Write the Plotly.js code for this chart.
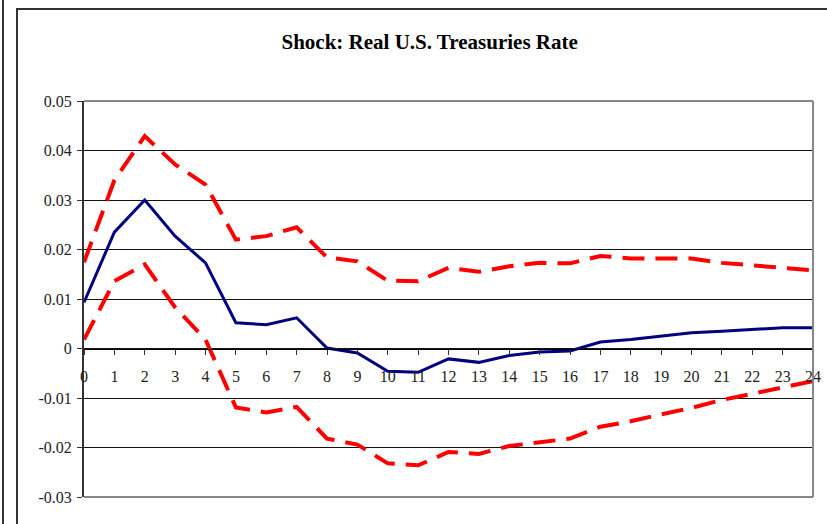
<!DOCTYPE html>
<html>
<head>
<meta charset="utf-8">
<script src="https://cdn.plot.ly/plotly-3.0.1.min.js"></script>
<style>
  html, body { margin:0; padding:0; background:#fff; }
  #wrap { position:relative; width:827px; height:524px; overflow:hidden; }
  #chart { position:absolute; left:0; top:0; width:827px; height:524px; }
  .frameL { position:absolute; left:16px; top:8px; width:2px; height:516px; background:#333; }
  .frameT { position:absolute; left:16px; top:8px; width:811px; height:2px; background:#333; }
  .edge { position:absolute; left:2px; top:0; width:2px; height:524px; background:#333; }
</style>
</head>
<body>
<div id="wrap">
  <div id="chart"></div>
  <div class="edge"></div>
  <div class="frameL"></div>
  <div class="frameT"></div>
</div>
<script>
const horizon = [0,1,2,3,4,5,6,7,8,9,10,11,12,13,14,15,16,17,18,19,20,21,22,23,24];
const response = [0.0093,0.0235,0.0300,0.0227,0.0173,0.0052,0.0048,0.0062,0.0001,-0.0009,-0.0046,-0.0048,-0.0021,-0.0028,-0.0014,-0.0007,-0.0005,0.0013,0.0018,0.0025,0.0032,0.0035,0.0038,0.0042,0.0042];
const upperBand = [0.0174,0.0340,0.0429,0.0372,0.0331,0.0220,0.0227,0.0245,0.0184,0.0176,0.0137,0.0136,0.0163,0.0155,0.0166,0.0173,0.0172,0.0187,0.0182,0.0182,0.0182,0.0173,0.0168,0.0163,0.0158];
const lowerBand = [0.0018,0.0136,0.0170,0.0083,0.0018,-0.0119,-0.0129,-0.0118,-0.0182,-0.0194,-0.0232,-0.0236,-0.0209,-0.0213,-0.0197,-0.0189,-0.0182,-0.0158,-0.0147,-0.0133,-0.0120,-0.0104,-0.0091,-0.0077,-0.0066];
const yTickVals = [-0.03,-0.02,-0.01,0,0.01,0.02,0.03,0.04,0.05];
const yTickLabels = ["-0.03","-0.02","-0.01","0","0.01","0.02","0.03","0.04","0.05"];
const xTickLabels = horizon.map(String);
const titleText = "Shock: Real U.S. Treasuries Rate";

const serif = "Liberation Serif";

const traces = [
  {x: horizon, y: upperBand, mode:'lines', line:{color:'#FF0000', width:4, dash:'22px,11px'}, hoverinfo:'skip'},
  {x: horizon, y: lowerBand, mode:'lines', line:{color:'#FF0000', width:4, dash:'22px,11px'}, hoverinfo:'skip'},
  {x: horizon, y: response, mode:'lines', line:{color:'#000080', width:3}, hoverinfo:'skip'}
];

const layout = {
  width:827, height:524,
  margin:{l:84, r:14, t:101, b:27},
  paper_bgcolor:'#ffffff', plot_bgcolor:'#ffffff',
  showlegend:false,
  title:{text:'<b>'+titleText+'</b>', font:{family:serif, size:21, color:'#000'}, x:0.5195, xref:'container', xanchor:'center', y:1-42/524, yref:'container', yanchor:'middle'},
  xaxis:{
    range:[0,24], tickvals:horizon, ticktext:xTickLabels,
    anchor:'free', position:0.375,
    showline:true, linecolor:'#000', linewidth:1.5,
    ticks:'outside', ticklen:5, tickcolor:'#333', tickwidth:1,
    showgrid:false, zeroline:false,
    tickfont:{family:serif, size:16, color:'#222'},
    ticklabelstandoff:8
  },
  yaxis:{
    range:[-0.03,0.05], tickvals:yTickVals, ticktext:yTickLabels,
    showline:true, linecolor:'#333', linewidth:2,
    ticks:'outside', ticklen:5, tickcolor:'#333', tickwidth:1,
    showgrid:true, gridcolor:'#111', gridwidth:1,
    zeroline:false,
    tickfont:{family:serif, size:16, color:'#222'},
    ticklabelstandoff:2
  },
  shapes:[
    {type:'line', xref:'paper', yref:'paper', x0:1, x1:1, y0:0, y1:1, line:{color:'#888', width:2}},
    {type:'line', xref:'paper', yref:'paper', x0:0, x1:1, y0:0, y1:0, line:{color:'#888', width:2}},
    {type:'line', xref:'paper', yref:'paper', x0:0, x1:1, y0:1, y1:1, line:{color:'#888', width:2}}
  ]
};

Plotly.newPlot('chart', traces, layout, {staticPlot:true, displayModeBar:false});
</script>
</body>
</html>
